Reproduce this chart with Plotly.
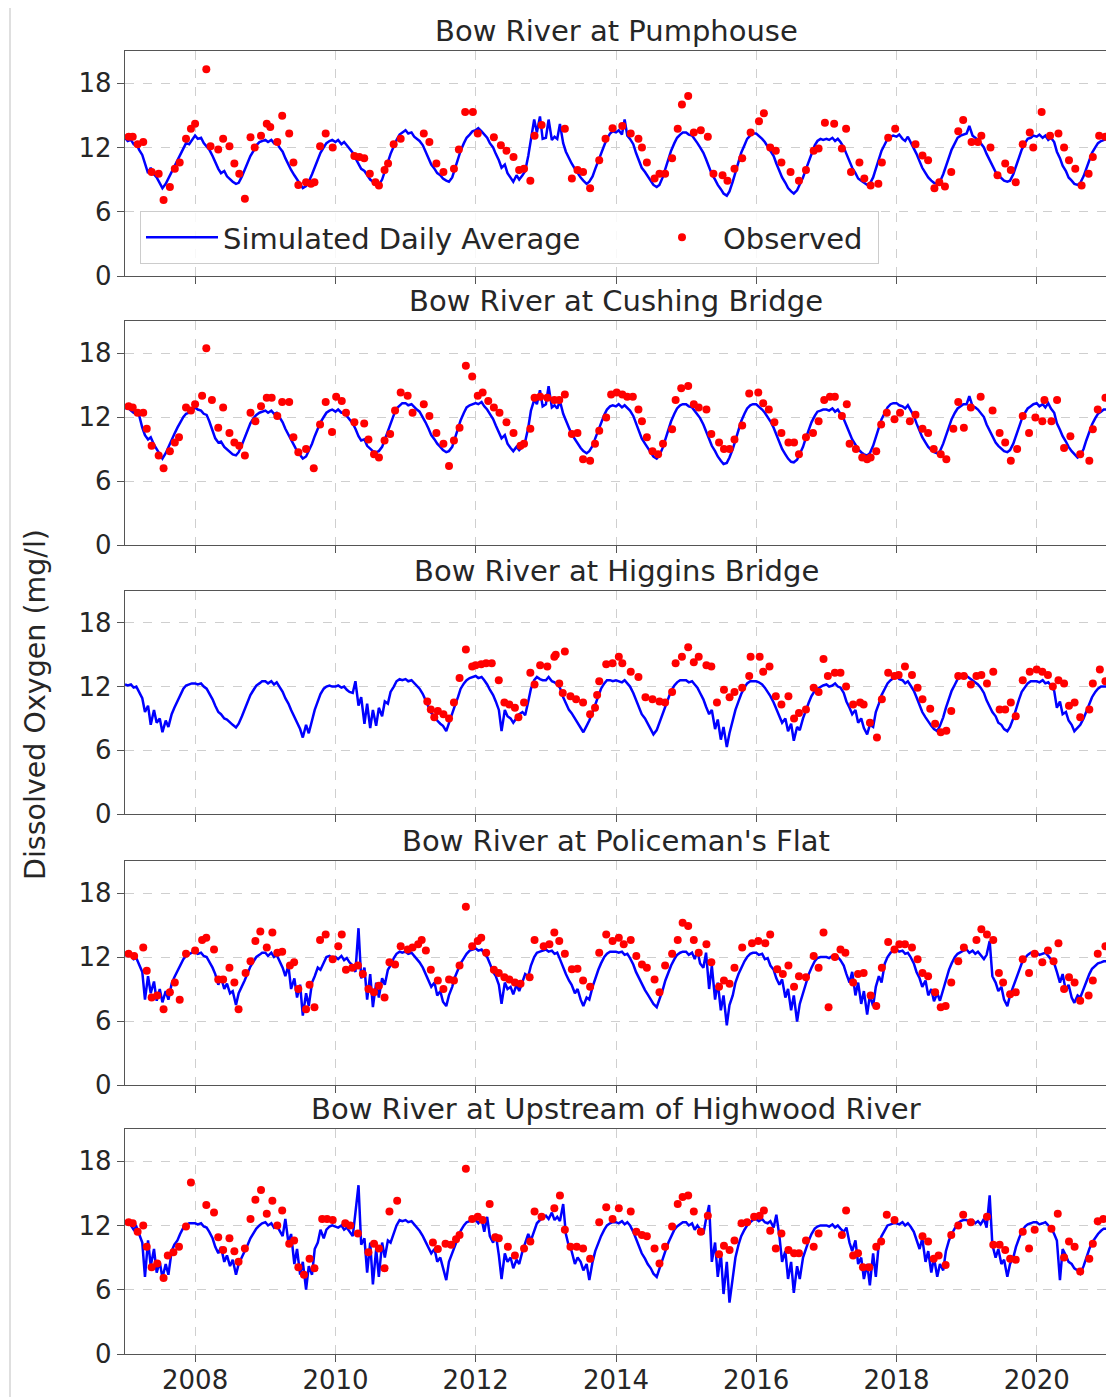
import pandas as pd
import plotly.graph_objects as go

# ---------------- data ----------------
TITLES = ["Bow River at Pumphouse", "Bow River at Cushing Bridge", "Bow River at Higgins Bridge",
          "Bow River at Policeman's Flat", "Bow River at Upstream of Highwood River"]
TICK_YEARS = [2008, 2010, 2012, 2014, 2016, 2018, 2020]
Y_TICKS = [0, 6, 12, 18]

# simulated daily average, sampled on the 1st and 15th of each month, one row per year 2007..2020
SIM_PUMPHOUSE = [
 [12.9,12.6,12.7,12.3,12.4,11.8,11.3,10.4,9.6,10.1,9.5,9.2,8.7,8.2,8.6,9.1,9.7,10.3,10.9,11.4,11.9,12.4,12.3,12.7],
 [13.1,12.8,12.9,12.4,12.1,11.8,11.2,10.6,10.0,9.6,9.8,9.3,9.0,8.8,8.6,8.7,9.3,9.9,10.6,11.2,11.7,12.2,12.5,12.6],
 [12.7,12.5,12.7,12.4,12.5,12.0,11.6,11.0,10.4,9.9,9.4,9.0,8.6,8.2,8.4,8.8,9.5,10.2,10.9,11.5,12.0,12.4,12.6,12.7],
 [12.5,12.7,12.3,12.5,12.2,11.9,11.5,11.0,10.4,10.0,9.8,9.4,9.0,8.8,8.6,8.5,9.0,9.8,10.7,11.4,12.1,12.7,13.2,13.4],
 [13.6,13.3,13.4,13.0,12.8,12.6,12.2,11.6,11.0,10.4,10.0,9.6,9.4,9.1,8.9,8.8,9.2,10.0,10.9,11.7,12.4,12.9,13.2,13.5],
 [13.6,13.8,13.5,13.2,12.9,12.4,12.0,11.4,10.8,10.1,10.4,9.6,9.2,8.8,9.4,9.0,9.4,9.8,11.2,12.8,14.6,13.4,14.9,12.8],
 [12.9,14.6,12.7,13.0,12.8,14.2,12.4,11.6,11.0,10.5,10.0,9.6,9.2,8.9,8.6,8.8,9.3,10.0,10.8,11.5,12.2,12.8,13.3,13.5],
 [13.4,13.6,13.2,14.6,13.1,12.8,12.3,11.5,10.8,10.1,9.7,9.3,8.9,8.5,8.3,8.5,9.2,10.0,10.9,11.7,12.4,12.9,13.2,13.4],
 [13.4,13.2,13.1,12.8,12.4,12.0,11.5,10.9,10.2,9.5,9.0,8.5,8.1,7.7,7.5,7.9,8.8,9.7,10.6,11.5,12.2,12.8,13.1,13.3],
 [13.3,13.1,12.8,12.5,12.1,11.7,11.2,10.5,9.8,9.2,8.7,8.2,7.9,7.7,8.0,8.5,9.2,9.9,10.7,11.5,12.2,12.6,12.8,12.7],
 [12.8,12.7,12.9,12.6,12.8,12.5,12.0,11.4,10.7,10.1,9.6,9.1,8.9,8.7,8.5,8.6,9.2,10.0,10.9,11.7,12.3,12.8,13.0,13.1],
 [13.0,13.2,12.8,12.6,13.0,12.5,12.0,11.4,10.7,10.1,9.6,9.2,8.9,8.7,8.6,8.8,9.5,10.3,11.1,11.8,12.4,12.9,13.1,13.2],
 [13.3,14.0,13.1,12.9,12.7,12.4,12.0,11.4,10.8,10.2,9.7,9.4,9.1,8.9,8.8,8.9,9.5,10.3,11.1,11.8,12.4,12.8,12.9,13.1],
 [13.0,13.2,12.9,13.1,12.7,12.9,12.5,11.6,11.0,10.3,9.8,9.2,8.9,8.6,8.5,8.7,9.3,10.0,10.8,11.5,12.0,12.4,12.6,12.7],
]
SIM_CUSHING = [
 [12.8,12.9,12.6,12.4,12.5,12.2,11.0,10.3,9.9,10.1,9.4,9.0,8.6,8.1,8.6,9.2,9.8,10.4,11.0,11.5,12.0,12.3,12.4,12.6],
 [12.9,12.7,12.6,12.3,12.2,11.6,10.8,10.0,9.6,9.7,9.2,9.0,8.7,8.5,8.4,8.7,9.4,10.1,10.8,11.4,11.9,12.2,12.4,12.5],
 [12.6,12.4,12.6,12.3,12.4,12.0,11.5,10.9,10.3,9.8,9.3,8.8,8.4,8.1,8.3,8.8,9.5,10.2,10.9,11.5,12.0,12.4,12.6,12.7],
 [12.5,12.7,12.4,12.4,12.1,11.8,11.4,10.9,10.2,9.8,9.9,9.3,9.0,8.8,8.7,8.8,9.2,9.9,10.7,11.5,12.2,12.8,13.1,13.3],
 [13.3,13.1,13.2,12.9,12.7,12.5,12.0,11.5,10.9,10.3,9.9,9.5,9.2,8.9,8.7,8.8,9.2,10.0,10.9,11.7,12.4,12.9,13.1,13.2],
 [13.3,13.2,13.4,13.0,12.7,12.3,11.8,11.2,10.6,10.0,10.3,9.5,9.1,8.8,9.2,8.9,9.2,9.7,11.0,12.6,13.6,13.2,14.5,13.0],
 [13.2,14.9,12.9,13.1,12.8,13.5,12.3,11.6,11.0,10.4,9.9,9.5,9.1,8.8,8.6,8.8,9.3,10.0,10.8,11.5,12.2,12.7,13.0,13.1],
 [13.0,13.2,12.9,13.1,12.8,12.6,12.1,11.4,10.7,10.0,9.5,9.1,8.7,8.3,8.1,8.4,9.1,9.9,10.8,11.6,12.3,12.8,13.1,13.2],
 [13.2,13.0,12.9,12.6,12.3,11.9,11.3,10.6,9.9,9.3,8.8,8.3,7.9,7.6,7.7,8.2,9.0,9.9,10.8,11.6,12.3,12.8,13.1,13.2],
 [13.2,13.0,12.7,12.4,12.0,11.6,11.0,10.3,9.6,9.0,8.5,8.1,7.8,7.75,8.0,8.5,9.2,10.0,10.8,11.5,12.1,12.5,12.6,12.7],
 [12.7,12.6,12.8,12.5,12.7,12.3,11.8,11.2,10.5,9.9,9.4,9.0,8.7,8.5,8.4,8.6,9.3,10.1,11.0,11.8,12.4,12.9,13.2,13.3],
 [13.3,13.1,13.0,12.8,13.1,12.6,12.1,11.4,10.7,10.1,9.6,9.2,8.9,8.7,8.6,8.8,9.5,10.3,11.1,11.8,12.4,12.8,13.0,13.2],
 [13.2,13.95,13.0,12.9,12.7,12.4,12.0,11.3,10.7,10.1,9.6,9.3,9.0,8.8,8.7,8.9,9.5,10.3,11.1,11.8,12.4,12.8,13.0,13.2],
 [13.3,13.0,13.2,12.9,13.3,12.8,12.4,11.4,10.8,10.2,9.7,9.2,8.8,8.5,8.2,8.4,9.0,9.8,10.6,11.3,11.9,12.3,12.5,12.7],
]
SIM_HIGGINS = [
 [12.2,12.1,12.2,11.9,12.0,11.5,10.9,9.6,10.2,8.4,9.8,8.6,9.0,7.7,8.8,8.2,9.4,10.0,10.6,11.2,11.8,12.1,12.2,12.3],
 [12.3,12.2,12.3,12.0,11.8,11.4,10.8,10.2,9.6,9.4,9.0,8.9,8.6,8.4,8.15,8.5,9.2,9.9,10.6,11.2,11.7,12.1,12.3,12.5],
 [12.5,12.3,12.5,12.2,12.4,12.0,11.5,10.9,10.4,9.8,9.2,8.6,8.0,7.2,8.4,7.6,8.9,9.8,10.6,11.3,11.8,12.0,12.1,12.0],
 [12.0,12.1,11.9,12.0,11.7,11.5,11.4,12.5,10.2,11.0,8.5,10.4,8.1,9.8,8.3,10.0,9.2,10.6,10.4,11.5,12.0,12.5,12.7,12.6],
 [12.7,12.5,12.6,12.3,12.1,11.8,11.3,10.7,10.0,9.5,9.2,8.8,8.5,8.3,7.8,8.6,9.4,10.2,11.0,11.8,12.3,12.6,12.8,12.9],
 [13.0,12.8,12.9,12.6,12.2,11.7,11.2,10.6,9.8,7.8,9.8,9.2,9.0,8.6,9.0,9.4,9.6,9.3,10.6,11.8,12.6,12.9,12.7,12.6],
 [12.6,12.9,12.5,12.4,12.2,11.9,11.0,10.5,9.8,9.5,9.0,8.6,8.2,7.7,8.3,8.8,9.6,10.3,11.0,11.8,12.3,12.6,12.6,12.5],
 [12.6,12.5,12.4,12.6,12.3,12.0,11.4,10.7,10.0,9.4,9.0,8.5,8.0,7.5,7.9,8.6,9.4,10.2,11.0,11.6,12.1,12.4,12.6,12.6],
 [12.6,12.4,12.5,12.2,11.9,11.4,10.8,10.1,9.4,9.8,8.0,8.9,7.0,8.2,6.3,7.6,8.8,9.8,10.6,11.3,11.9,12.3,12.5,12.5],
 [12.5,12.4,12.2,11.9,11.5,11.1,10.5,9.9,9.3,8.6,9.0,7.8,8.5,6.9,8.2,7.9,9.0,9.8,10.5,11.1,11.6,11.8,12.0,12.1],
 [12.2,12.0,12.1,12.3,12.0,11.9,11.4,10.6,10.0,9.4,9.8,8.6,9.0,8.1,7.5,8.4,8.2,9.6,10.4,11.2,11.8,12.3,12.6,12.8],
 [13.0,12.7,12.6,12.3,12.5,12.1,11.6,11.0,10.3,9.6,9.1,8.7,8.3,8.0,7.8,8.3,9.1,10.0,10.9,11.6,12.2,12.7,12.9,13.0],
 [13.0,12.8,12.6,12.4,12.2,11.9,11.4,10.7,10.1,9.6,9.2,8.6,8.4,8.0,7.8,8.2,9.0,9.9,10.8,11.5,12.0,12.3,12.5,12.5],
 [12.5,12.4,12.6,12.3,12.4,12.1,11.6,10.0,10.6,9.4,9.6,8.8,8.4,7.8,8.1,8.4,9.0,9.7,10.4,11.0,11.5,11.8,12.0,12.0],
]
SIM_POLICEMAN = [
 [12.2,12.1,12.2,11.8,11.9,11.3,10.6,8.0,10.2,8.6,9.7,7.9,9.0,7.75,8.8,8.0,9.5,10.1,10.7,11.2,11.8,12.1,12.3,12.4],
 [12.5,12.3,12.4,12.1,12.0,11.6,11.0,10.4,9.4,10.1,9.0,9.5,8.6,8.8,7.5,8.6,9.2,9.8,10.5,11.1,11.6,12.0,12.2,12.4],
 [12.4,12.1,12.4,12.0,12.2,11.6,11.0,10.2,11.2,9.0,10.0,8.2,9.4,6.5,8.6,7.4,9.6,10.2,11.0,10.8,11.5,12.0,12.1,11.9],
 [12.0,11.8,12.1,11.7,11.9,11.5,11.2,10.6,14.7,10.0,11.0,8.0,10.4,7.3,9.6,8.2,10.0,9.4,10.8,11.2,11.9,12.3,12.5,12.4],
 [12.5,12.3,12.4,12.1,11.8,11.5,11.0,10.4,9.8,9.2,9.6,8.4,8.8,7.8,7.4,8.4,9.2,10.1,10.8,11.4,11.9,12.3,12.6,12.7],
 [12.8,12.6,12.7,12.3,12.0,11.4,10.6,10.2,9.4,7.6,9.6,9.0,9.2,8.5,9.4,8.8,9.6,10.4,10.2,11.2,12.0,12.4,12.5,12.6],
 [12.7,12.5,12.6,12.3,12.4,11.8,11.0,10.4,9.8,9.4,8.6,9.0,8.0,7.4,8.2,8.0,9.2,10.0,10.8,11.4,12.0,12.3,12.5,12.5],
 [12.5,12.4,12.5,12.2,12.3,11.9,11.3,10.6,10.0,9.4,8.9,8.5,8.0,7.6,7.3,8.0,8.9,9.8,10.6,11.2,11.8,12.2,12.4,12.5],
 [12.5,12.2,12.4,11.8,12.6,11.4,11.0,12.4,9.0,11.2,8.0,9.6,7.0,8.4,5.6,7.5,8.4,9.6,10.4,11.0,11.6,12.0,12.3,12.4],
 [12.4,12.2,12.3,11.8,11.9,11.2,10.8,10.0,9.4,9.9,8.2,9.0,7.0,8.4,5.95,7.6,8.6,9.5,10.4,11.0,11.6,11.9,12.0,12.0],
 [12.0,11.9,12.1,11.8,12.0,11.7,11.2,10.4,9.6,10.6,8.4,9.6,7.6,8.8,6.6,8.4,7.4,9.2,10.2,9.6,11.4,12.0,12.4,12.6],
 [12.7,12.5,12.6,12.3,12.4,12.0,11.4,10.6,10.0,9.2,9.8,8.4,9.0,7.85,8.6,7.9,9.0,10.0,10.8,11.4,12.0,12.3,12.5,12.6],
 [12.7,12.4,12.6,12.3,12.5,12.2,11.8,12.2,13.5,10.2,9.6,8.8,9.2,8.0,7.4,8.4,9.2,10.0,10.8,11.4,11.9,12.2,12.4,12.4],
 [12.4,12.2,12.3,12.4,12.1,11.8,11.4,10.6,9.6,10.4,8.8,9.4,8.2,7.7,8.4,8.2,9.0,9.8,10.4,10.9,11.2,11.4,11.5,11.6],
]
SIM_HIGHWOOD = [
 [12.2,12.3,12.0,11.6,11.9,11.2,10.4,7.2,10.6,8.2,9.8,7.6,8.6,7.1,8.4,7.4,9.6,10.2,10.6,11.2,11.8,12.0,12.2,12.2],
 [12.2,12.1,12.2,11.9,11.8,11.4,10.8,10.0,9.4,10.0,8.6,9.2,8.2,8.8,7.4,8.4,9.0,9.6,10.2,10.8,11.3,11.7,12.0,12.2],
 [12.3,12.0,12.2,11.8,12.0,11.6,11.0,12.6,10.4,11.2,8.4,9.8,7.4,8.6,6.0,8.2,7.4,9.8,10.4,11.6,10.8,11.6,11.9,12.0],
 [11.9,11.8,12.0,11.6,11.8,11.4,11.0,13.2,15.75,10.2,10.8,7.6,10.4,6.5,9.8,7.2,10.4,9.0,10.6,10.4,11.4,12.0,12.5,12.4],
 [12.5,12.3,12.4,12.1,11.9,11.5,11.0,10.5,9.9,9.4,9.8,8.6,9.0,8.0,6.9,8.6,9.4,10.2,10.9,11.5,12.0,12.3,12.4,12.5],
 [12.5,12.2,12.6,11.4,12.8,11.0,10.4,11.2,9.2,7.0,9.4,8.6,9.0,8.0,8.8,8.4,9.6,10.4,11.2,10.6,11.6,12.2,12.5,12.7],
 [12.9,12.6,13.2,12.5,12.8,12.4,14.0,11.2,10.0,9.6,8.4,9.0,8.6,7.8,8.4,6.9,8.6,9.6,10.4,11.0,11.6,12.0,12.2,12.3],
 [12.3,12.2,12.4,12.1,12.3,12.0,11.4,10.7,10.0,9.4,8.9,8.4,8.0,7.5,7.2,8.0,8.8,9.6,10.4,11.0,11.6,11.9,12.1,12.3],
 [12.3,12.0,12.2,11.6,12.0,11.6,11.2,12.6,13.9,8.6,10.4,7.2,9.4,5.6,8.6,4.8,7.4,9.0,10.2,11.0,11.6,12.0,12.3,12.5],
 [12.6,12.4,12.6,12.3,12.2,12.4,11.8,13.0,11.0,8.6,9.6,7.0,8.6,5.7,8.2,7.0,9.0,9.8,10.6,11.2,11.7,11.9,12.0,12.0],
 [12.0,11.9,12.1,11.8,12.0,11.7,11.4,11.8,10.4,9.6,10.6,8.4,9.0,7.0,8.4,6.4,9.4,7.2,10.4,11.0,11.6,12.0,12.1,12.2],
 [12.2,12.1,12.3,12.0,12.2,11.9,11.4,10.6,9.8,10.8,8.6,9.6,7.6,9.0,7.2,8.4,7.8,9.6,10.6,11.2,11.8,12.2,12.4,12.5],
 [12.5,12.3,12.5,12.2,12.4,12.1,12.6,11.8,14.8,10.2,9.0,9.8,8.4,8.8,7.2,8.4,9.0,10.0,10.8,11.4,11.9,12.1,12.2,12.3],
 [12.3,12.1,12.2,12.3,12.0,11.8,11.2,10.6,6.9,9.8,9.2,8.6,8.4,8.0,7.8,7.5,8.2,9.0,9.8,10.4,10.9,11.2,11.5,11.7],
]
SIM_END = [12.8, 12.7, 12.0, 11.6, 11.7]   # value on 2021-01-01

# observed samples: decimal year and dissolved oxygen (mg/l)
OBS_PUMPHOUSE_T = [2007.05,2007.11,2007.18,2007.26,2007.38,2007.48,2007.55,2007.64,2007.71,2007.78,2007.87,2007.94,2008.0,
 2008.16,2008.22,2008.33,2008.4,2008.49,2008.56,2008.63,2008.71,2008.79,2008.85,2008.94,2009.02,2009.07,2009.17,2009.24,
 2009.34,2009.4,2009.47,2009.58,2009.65,2009.7,2009.78,2009.86,2009.96,2010.27,2010.34,2010.41,2010.49,2010.57,2010.62,
 2010.7,2010.75,2010.83,2010.93,2011.26,2011.34,2011.44,2011.54,2011.69,2011.76,2011.85,2011.96,2012.03,2012.26,2012.36,
 2012.44,2012.54,2012.62,2012.69,2012.78,2012.84,2012.94,2013.27,2013.37,2013.45,2013.53,2013.63,2013.76,2013.85,2013.95,
 2014.09,2014.21,2014.32,2014.37,2014.44,2014.55,2014.62,2014.7,2014.8,2014.88,2014.94,2015.03,2015.11,2015.21,2015.31,
 2015.39,2015.52,2015.59,2015.69,2015.8,2015.92,2016.04,2016.11,2016.2,2016.28,2016.36,2016.49,2016.61,2016.71,2016.82,
 2016.89,2016.98,2017.11,2017.22,2017.28,2017.35,2017.47,2017.54,2017.63,2017.74,2017.79,2017.88,2017.98,2018.27,2018.37,
 2018.45,2018.54,2018.61,2018.69,2018.78,2018.88,2018.95,2019.07,2019.16,2019.21,2019.34,2019.44,2019.55,2019.63,2019.7,
 2019.8,2019.9,2019.95,2020.07,2020.19,2020.31,2020.39,2020.46,2020.55,2020.64,2020.74,2020.8,2020.89,2020.98]
OBS_PUMPHOUSE_V = [13.0,13.0,12.3,12.5,9.7,9.55,7.1,8.3,10.0,10.6,12.8,13.75,14.2,
 19.3,12.1,11.8,12.8,12.1,10.5,9.55,7.2,12.95,12.0,13.1,14.2,13.9,12.5,14.95,
 13.3,10.6,8.5,8.75,8.6,8.75,12.1,13.3,12.0,11.2,11.1,11.0,9.55,8.75,8.45,
 9.9,10.5,12.3,12.8,13.3,12.5,10.5,9.7,10.0,11.8,15.3,15.3,13.3,12.95,12.2,
 11.7,11.1,9.9,10.0,8.9,13.1,14.1,13.75,9.1,9.9,9.7,8.2,10.8,12.8,13.8,
 14.0,13.3,12.8,12.0,10.6,9.1,9.55,9.55,11.0,13.75,16.0,16.8,13.4,13.6,13.0,
 9.55,9.4,8.9,10.0,11.0,13.4,14.45,15.2,12.0,11.7,10.6,9.7,8.9,9.9,11.7,
 11.9,14.3,14.2,11.9,13.75,9.7,10.6,9.1,8.45,8.6,10.6,12.9,13.75,12.3,11.25,
 10.8,8.2,8.75,8.35,9.7,13.5,14.55,12.5,12.5,13.1,12.0,9.4,10.5,9.9,8.75,
 12.3,13.4,12.0,15.3,13.1,13.3,12.0,10.8,10.0,8.45,9.55,11.1,13.1,13.0]

OBS_CUSHING_T = [2007.05,2007.11,2007.18,2007.26,2007.31,2007.38,2007.48,2007.55,2007.64,2007.71,2007.77,2007.87,2007.94,
 2008.0,2008.1,2008.16,2008.24,2008.33,2008.4,2008.49,2008.56,2008.63,2008.71,2008.79,2008.86,2008.94,2009.02,2009.09,
 2009.17,2009.24,2009.34,2009.4,2009.47,2009.58,2009.69,2009.78,2009.86,2009.95,2010.01,2010.09,2010.15,2010.27,2010.41,
 2010.47,2010.55,2010.62,2010.7,2010.78,2010.85,2010.93,2011.03,2011.1,2011.26,2011.34,2011.44,2011.54,2011.62,2011.69,
 2011.77,2011.86,2011.95,2012.03,2012.1,2012.18,2012.26,2012.34,2012.44,2012.54,2012.64,2012.69,2012.78,2012.84,2012.92,
 2013.02,2013.12,2013.19,2013.27,2013.37,2013.45,2013.53,2013.63,2013.7,2013.76,2013.86,2013.93,2014.01,2014.09,2014.16,
 2014.24,2014.32,2014.37,2014.44,2014.52,2014.6,2014.67,2014.8,2014.85,2014.93,2015.03,2015.11,2015.18,2015.29,2015.36,
 2015.47,2015.54,2015.62,2015.69,2015.8,2015.9,2016.03,2016.1,2016.18,2016.26,2016.36,2016.46,2016.54,2016.61,2016.71,
 2016.81,2016.89,2016.97,2017.05,2017.12,2017.22,2017.29,2017.33,2017.42,2017.51,2017.58,2017.63,2017.71,2017.78,2017.86,
 2017.97,2018.05,2018.19,2018.27,2018.37,2018.45,2018.53,2018.63,2018.71,2018.81,2018.88,2018.96,2019.06,2019.2,2019.37,
 2019.47,2019.55,2019.63,2019.72,2019.8,2019.89,2019.98,2020.08,2020.11,2020.21,2020.29,2020.39,2020.48,2020.62,2020.75,
 2020.8,2020.87,2020.98]
OBS_CUSHING_V = [13.0,12.9,12.4,12.4,10.9,9.3,8.4,7.2,8.8,9.6,10.1,12.9,12.6,
 13.2,14.0,18.45,13.6,11.0,12.9,10.5,9.6,9.3,8.4,12.4,11.6,13.0,13.8,13.8,
 12.1,13.4,13.4,10.1,8.7,9.0,7.2,11.3,13.4,10.6,13.9,13.5,12.4,11.5,11.4,
 9.9,8.5,8.2,9.8,10.4,12.6,14.3,14.0,12.4,13.2,12.1,10.5,9.5,7.4,9.8,
 11.0,16.8,15.8,14.0,14.3,13.5,12.9,12.4,11.5,10.5,9.3,9.5,10.9,13.8,13.9,
 13.8,13.6,13.6,14.1,10.4,10.5,8.05,7.9,9.5,10.7,11.95,14.1,14.3,14.1,13.9,
 13.9,12.7,11.6,10.1,8.8,8.5,9.5,10.85,13.6,14.7,14.9,13.2,12.9,12.7,10.4,
 9.6,9.0,9.0,9.9,11.2,14.2,14.3,13.3,12.7,11.5,10.5,9.6,9.6,8.5,10.1,
 10.5,11.6,13.6,13.9,13.9,12.1,13.2,9.5,9.0,8.2,8.05,8.2,8.8,11.3,12.4,
 11.8,12.4,11.6,12.2,10.9,10.5,9.0,8.5,8.05,10.9,13.4,11.0,12.9,13.9,12.6,
 10.5,9.6,7.9,9.0,12.1,10.5,11.95,11.6,13.6,11.6,13.6,9.1,10.2,8.5,7.9,
 10.85,12.7,13.8]

OBS_HIGGINS_T = [2011.31,2011.36,2011.41,2011.46,2011.54,2011.62,2011.69,2011.77,2011.86,2011.95,2012.0,2012.08,2012.15,
 2012.23,2012.33,2012.41,2012.48,2012.56,2012.61,2012.69,2012.78,2012.84,2012.92,2013.02,2013.12,2013.14,2013.19,2013.24,
 2013.27,2013.35,2013.43,2013.53,2013.63,2013.7,2013.73,2013.76,2013.86,2013.95,2014.04,2014.09,2014.21,2014.32,2014.42,
 2014.52,2014.62,2014.7,2014.8,2014.85,2014.94,2015.03,2015.11,2015.18,2015.29,2015.36,2015.44,2015.54,2015.62,2015.69,
 2015.8,2015.9,2015.92,2016.05,2016.1,2016.19,2016.28,2016.36,2016.46,2016.54,2016.61,2016.71,2016.82,2016.89,2016.96,
 2017.02,2017.12,2017.2,2017.28,2017.38,2017.48,2017.53,2017.62,2017.72,2017.79,2017.88,2017.97,2018.03,2018.12,2018.22,
 2018.3,2018.37,2018.48,2018.55,2018.63,2018.71,2018.78,2018.88,2018.96,2019.06,2019.14,2019.21,2019.29,2019.38,2019.47,
 2019.55,2019.63,2019.7,2019.8,2019.9,2020.0,2020.08,2020.16,2020.23,2020.31,2020.39,2020.46,2020.54,2020.62,2020.75,
 2020.8,2020.9,2020.98]
OBS_HIGGINS_V = [10.6,9.85,9.1,9.7,9.4,9.0,10.5,12.8,15.5,13.9,14.0,14.1,14.2,
 14.2,12.6,10.5,10.3,10.0,9.1,10.5,13.3,12.2,14.0,13.9,14.8,15.0,12.3,11.4,
 15.3,11.1,10.8,10.5,9.4,10.0,11.2,12.5,14.1,14.2,14.8,14.2,13.4,12.9,11.0,
 10.8,10.6,10.5,11.5,14.2,14.8,15.7,14.3,14.8,14.0,13.9,10.5,11.7,11.0,11.5,
 11.9,13.0,14.8,14.8,13.4,13.9,11.1,10.3,11.1,9.0,9.5,9.85,11.9,11.5,14.6,
 13.0,13.3,13.3,12.0,10.3,10.5,10.3,8.6,7.2,10.8,13.3,13.0,13.1,13.9,13.1,
 11.9,10.8,9.9,8.5,7.7,7.85,9.7,13.0,13.0,12.2,13.0,13.1,12.3,13.4,9.85,
 9.85,10.5,9.2,12.6,13.4,13.6,13.4,13.1,12.0,12.6,12.3,10.2,10.5,9.1,9.85,
 12.3,13.6,12.5]

OBS_POLICEMAN_T = [2007.05,2007.13,2007.26,2007.31,2007.38,2007.46,2007.55,2007.64,2007.71,2007.78,2007.87,2008.0,2008.1,
 2008.16,2008.27,2008.33,2008.4,2008.49,2008.56,2008.62,2008.72,2008.79,2008.86,2008.93,2009.02,2009.1,2009.17,2009.24,
 2009.35,2009.41,2009.47,2009.58,2009.63,2009.7,2009.78,2009.86,2009.96,2010.04,2010.09,2010.15,2010.24,2010.32,2010.39,
 2010.47,2010.55,2010.62,2010.7,2010.77,2010.85,2010.93,2011.03,2011.1,2011.18,2011.23,2011.29,2011.36,2011.46,2011.54,
 2011.62,2011.69,2011.77,2011.86,2011.95,2012.03,2012.08,2012.15,2012.26,2012.33,2012.41,2012.48,2012.56,2012.64,2012.77,
 2012.84,2012.97,2013.05,2013.12,2013.19,2013.27,2013.37,2013.45,2013.53,2013.63,2013.76,2013.86,2013.95,2014.04,2014.11,
 2014.21,2014.29,2014.37,2014.44,2014.55,2014.62,2014.7,2014.8,2014.88,2014.95,2015.03,2015.11,2015.18,2015.29,2015.36,
 2015.47,2015.54,2015.62,2015.69,2015.8,2015.94,2016.03,2016.13,2016.2,2016.3,2016.38,2016.46,2016.54,2016.61,2016.71,
 2016.82,2016.89,2016.96,2017.03,2017.12,2017.2,2017.27,2017.38,2017.45,2017.53,2017.63,2017.71,2017.79,2017.88,2017.97,
 2018.04,2018.12,2018.22,2018.3,2018.37,2018.45,2018.55,2018.63,2018.7,2018.78,2018.88,2018.96,2019.14,2019.21,2019.29,
 2019.38,2019.46,2019.52,2019.62,2019.7,2019.8,2019.89,2019.97,2020.08,2020.16,2020.24,2020.31,2020.39,2020.46,2020.54,
 2020.62,2020.74,2020.8,2020.87,2020.98]
OBS_POLICEMAN_V = [12.3,12.1,12.9,10.7,8.2,8.4,7.1,8.7,9.6,8.0,12.3,12.6,13.6,
 13.8,12.7,9.9,9.9,11.0,9.6,7.1,10.5,11.6,13.5,14.4,12.9,14.3,12.4,12.5,
 11.2,11.5,9.0,7.1,9.4,7.3,13.6,14.1,11.8,13.0,14.1,10.8,11.0,11.2,10.4,
 9.0,8.7,9.3,8.2,11.5,11.3,13.0,12.7,12.9,13.2,13.6,12.6,10.8,9.8,9.0,
 9.9,9.8,11.2,16.7,13.0,13.5,13.8,12.4,10.8,10.5,10.1,9.9,9.6,9.5,10.1,
 13.6,13.0,13.2,14.3,13.5,12.3,10.85,10.9,9.8,9.2,12.4,14.1,13.5,13.8,13.2,
 13.6,12.1,11.3,11.0,9.9,8.7,11.2,12.3,13.6,15.2,14.9,13.6,12.4,13.2,11.5,
 9.2,9.8,9.5,11.0,12.9,13.3,13.5,13.3,14.1,10.85,10.4,11.2,9.2,10.2,10.1,
 12.1,11.0,14.3,7.3,12.0,12.7,12.4,9.6,10.4,10.5,8.4,7.4,11.0,13.4,12.7,
 13.2,13.2,12.9,11.8,10.5,10.2,8.7,7.3,7.4,9.6,11.6,12.9,13.6,14.6,14.1,
 13.6,10.5,9.6,8.5,8.7,11.8,10.5,12.3,11.5,12.6,11.6,13.3,9.0,10.1,9.6,
 7.9,8.4,9.8,12.3,13.0]

OBS_HIGHWOOD_T = [2007.05,2007.11,2007.18,2007.26,2007.31,2007.38,2007.46,2007.55,2007.61,2007.69,2007.77,2007.87,2007.94,
 2008.16,2008.27,2008.33,2008.4,2008.49,2008.56,2008.62,2008.71,2008.79,2008.86,2008.94,2009.02,2009.1,2009.17,2009.24,
 2009.34,2009.41,2009.47,2009.55,2009.63,2009.7,2009.81,2009.88,2009.96,2010.14,2010.21,2010.32,2010.47,2010.55,2010.62,
 2010.7,2010.77,2010.88,2011.39,2011.46,2011.57,2011.65,2011.72,2011.77,2011.86,2011.95,2012.03,2012.1,2012.2,2012.28,
 2012.33,2012.46,2012.56,2012.69,2012.78,2012.84,2012.94,2013.12,2013.2,2013.27,2013.35,2013.44,2013.53,2013.63,2013.76,
 2013.86,2013.95,2014.04,2014.21,2014.29,2014.37,2014.44,2014.55,2014.62,2014.7,2014.8,2014.88,2014.95,2015.03,2015.11,
 2015.21,2015.31,2015.47,2015.54,2015.62,2015.69,2015.79,2015.87,2015.97,2016.05,2016.11,2016.2,2016.28,2016.36,2016.46,
 2016.54,2016.61,2016.71,2016.82,2016.89,2017.22,2017.28,2017.38,2017.45,2017.52,2017.61,2017.71,2017.78,2017.86,2017.97,
 2018.37,2018.45,2018.53,2018.6,2018.7,2018.78,2018.88,2018.95,2019.06,2019.29,2019.38,2019.47,2019.55,2019.62,2019.7,
 2019.8,2019.89,2019.97,2020.21,2020.3,2020.39,2020.46,2020.54,2020.62,2020.75,2020.8,2020.87,2020.95]
OBS_HIGHWOOD_V = [12.3,12.2,11.4,12.0,10.0,8.1,8.45,7.1,9.2,9.5,10.0,11.9,16.0,
 13.9,13.2,10.9,9.7,10.8,9.6,8.6,9.85,12.6,14.4,15.3,13.1,14.3,12.0,13.4,
 10.3,10.6,8.1,7.4,8.9,8.0,12.6,12.6,12.5,12.2,12.0,11.25,9.5,10.3,9.85,
 8.0,13.3,14.3,10.4,9.8,10.3,10.2,10.7,11.1,17.3,12.6,12.8,12.5,14.0,10.9,
 10.8,10.0,9.2,9.85,10.5,13.3,12.8,13.6,14.8,11.6,10.0,10.0,9.85,8.9,12.3,
 13.7,12.6,13.6,13.3,11.4,11.1,11.0,9.85,8.45,10.0,11.9,14.0,14.65,14.8,13.3,
 11.4,12.9,9.3,10.1,9.7,10.6,12.2,12.3,12.8,12.9,13.4,11.5,9.85,11.25,9.7,
 9.4,9.4,10.6,10.0,11.25,11.1,13.4,9.2,9.4,8.1,8.1,10.0,10.5,13.0,12.5,
 11.0,10.5,8.9,9.2,8.3,11.1,12.0,13.0,12.3,12.8,10.2,10.2,9.7,8.9,8.8,
 11.4,9.85,11.6,11.7,13.1,9.0,10.5,10.0,7.7,8.9,10.3,12.4,12.6]

SIM_ROWS = [SIM_PUMPHOUSE, SIM_CUSHING, SIM_HIGGINS, SIM_POLICEMAN, SIM_HIGHWOOD]
OBS_T = [OBS_PUMPHOUSE_T, OBS_CUSHING_T, OBS_HIGGINS_T, OBS_POLICEMAN_T, OBS_HIGHWOOD_T]
OBS_V = [OBS_PUMPHOUSE_V, OBS_CUSHING_V, OBS_HIGGINS_V, OBS_POLICEMAN_V, OBS_HIGHWOOD_V]

# ---------------- figure ----------------
# the page body adds an 8 px margin, so the figure is drawn 8 px smaller and
# all positions below are given in screen pixels of the target and shifted back.
OFF = 8
SCR_W, SCR_H = 1114, 1397
W, H = SCR_W - OFF, SCR_H - OFF
PLOT_L, PLOT_R, PLOT_T, PLOT_B = 125, 1107, 51, 1354       # screen px
ML, MR, MT, MB = PLOT_L - OFF, SCR_W - PLOT_R, PLOT_T - OFF, SCR_H - PLOT_B
PH = H - MT - MB
PW = W - ML - MR
PANEL_PX = [(51, 276), (321, 545), (591, 814), (861, 1085), (1129, 1354)]


def fy(p):  # screen y -> paper fraction
    return (PLOT_B - p) / PH


def fx(p):  # screen x -> paper fraction
    return (p - PLOT_L) / PW


def to_date(t):
    y = int(t)
    return pd.Timestamp(y, 1, 1) + pd.Timedelta(days=(t - y) * 365.25)


sim_dates = list(pd.date_range("2007-01-01", "2020-12-15", freq="SMS")) + [pd.Timestamp("2021-01-01")]

FONT = "DejaVu Sans"
TXT = "#262626"
AX = "#555555"
GRID = "#cfcfcf"
fig = go.Figure()
layout = dict(width=W, height=H, margin=dict(l=ML, r=MR, t=MT, b=MB, autoexpand=False),
              paper_bgcolor="white", plot_bgcolor="white",
              font=dict(family=FONT, color=TXT, size=26), annotations=[], shapes=[])

for i in range(5):
    sfx = "" if i == 0 else str(i + 1)
    vals = [v for row in SIM_ROWS[i] for v in row] + [SIM_END[i]]
    fig.add_trace(go.Scatter(x=sim_dates, y=vals, mode="lines", line=dict(color="#0000ff", width=2.5),
                             name="Simulated Daily Average", legendgroup="sim", showlegend=(i == 0),
                             legendwidth=413, xaxis="x" + sfx, yaxis="y" + sfx))
    fig.add_trace(go.Scatter(x=[to_date(t) for t in OBS_T[i]], y=OBS_V[i], mode="markers",
                             marker=dict(color="#ff0000", size=8), name="Observed", legendgroup="obs",
                             showlegend=(i == 0), legendwidth=150, xaxis="x" + sfx, yaxis="y" + sfx))
    top, bot = PANEL_PX[i]
    dom = [fy(bot), fy(top)]
    common = dict(ticks="outside", ticklen=7, tickcolor=AX, showline=True, linecolor=AX, linewidth=1.3,
                  mirror=True, showgrid=True, gridcolor=GRID, griddash="dash", gridwidth=1,
                  zeroline=False, tickfont=dict(size=26, family=FONT, color=TXT))
    layout["xaxis" + sfx] = dict(type="date", range=["2007-01-01", "2021-01-01"], anchor="y" + sfx,
                                 tickvals=[f"{y}-01-01" for y in TICK_YEARS], ticktext=[str(y) for y in TICK_YEARS],
                                 showticklabels=(i == 4), ticklabelstandoff=-4, **common)
    layout["yaxis" + sfx] = dict(domain=dom, range=[0, 21], anchor="x" + sfx, tickvals=Y_TICKS, **common)
    layout["annotations"].append(dict(text=TITLES[i], xref="paper", yref="paper", x=0.5, y=dom[1],
                                      xanchor="center", yanchor="bottom", yshift=1, showarrow=False,
                                      font=dict(size=29, family=FONT, color=TXT)))

layout["annotations"].append(dict(text="Dissolved Oxygen (mg/l)", xref="paper", yref="paper",
                                  x=fx(35), y=fy(705), xanchor="center", yanchor="middle", textangle=-90,
                                  showarrow=False, font=dict(size=28.5, family=FONT, color=TXT)))
# light outer frame of the original figure
layout["shapes"].append(dict(type="line", xref="paper", yref="paper", x0=fx(10), x1=fx(1200),
                             y0=fy(7), y1=fy(7), line=dict(color="#d5d5d5", width=1.5)))
layout["shapes"].append(dict(type="line", xref="paper", yref="paper", x0=fx(10), x1=fx(10),
                             y0=fy(7), y1=fy(1500), line=dict(color="#d5d5d5", width=1.5)))

layout["legend"] = dict(orientation="h", x=fx(140), xanchor="left", y=fy(211), yanchor="top",
                        bgcolor="rgba(255,255,255,0.85)", bordercolor="#cccccc", borderwidth=1,
                        font=dict(size=29, family=FONT, color=TXT), itemwidth=72,
                        traceorder="normal")
fig.update_layout(**layout)
fig.write_html("out.html")
